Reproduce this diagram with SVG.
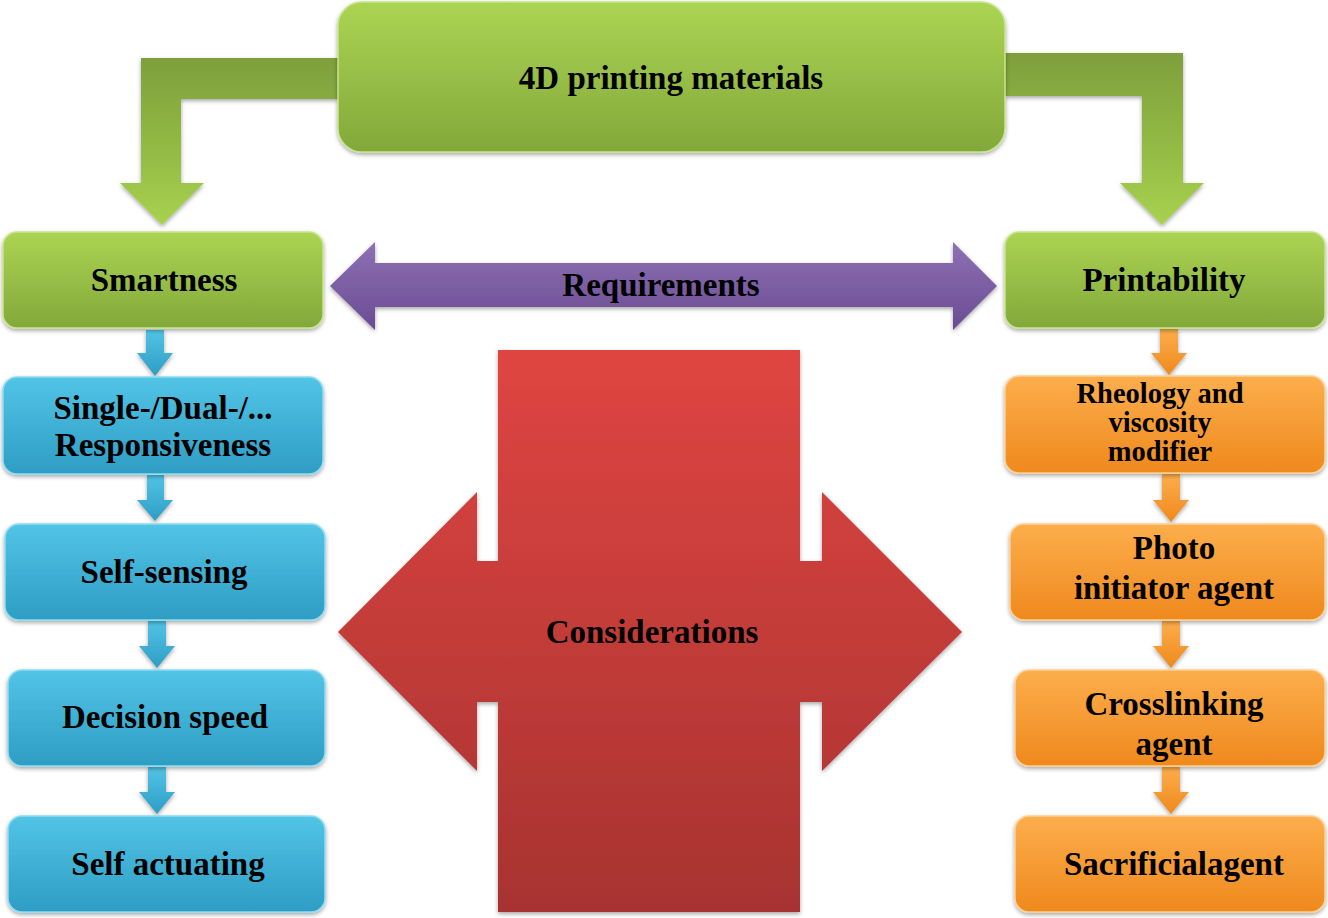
<svg xmlns="http://www.w3.org/2000/svg" width="1328" height="918" viewBox="0 0 1328 918">
<defs>
<linearGradient id="gGreen" x1="0" y1="0" x2="0" y2="1"><stop offset="0" stop-color="#acd453"/><stop offset="1" stop-color="#82a83a"/></linearGradient>
<linearGradient id="gGreenArr" x1="0" y1="0" x2="0" y2="1"><stop offset="0" stop-color="#7e9f3d"/><stop offset="0.6" stop-color="#95bd45"/><stop offset="1" stop-color="#a9d150"/></linearGradient>
<linearGradient id="gBlue" x1="0" y1="0" x2="0" y2="1"><stop offset="0" stop-color="#52c4e6"/><stop offset="1" stop-color="#2e9dc4"/></linearGradient>
<linearGradient id="gOrange" x1="0" y1="0" x2="0" y2="1"><stop offset="0" stop-color="#fcae4c"/><stop offset="1" stop-color="#ef891d"/></linearGradient>
<linearGradient id="gPurple" x1="0" y1="0" x2="0" y2="1"><stop offset="0" stop-color="#8e70b4"/><stop offset="1" stop-color="#6a4c93"/></linearGradient>
<linearGradient id="gRed" x1="0" y1="0" x2="0" y2="1"><stop offset="0" stop-color="#df4541"/><stop offset="1" stop-color="#a73331"/></linearGradient>
<filter id="sh" x="-10%" y="-10%" width="120%" height="130%"><feDropShadow dx="0" dy="2" stdDeviation="2" flood-color="#000" flood-opacity="0.35"/></filter>
</defs>
<style>
text{font-family:"Liberation Serif","Times New Roman",serif;font-weight:bold;fill:#000;text-anchor:middle}
.t30{font-size:33px}
.t24{font-size:28.5px}
.green{fill:url(#gGreen);stroke:#c6e58a;stroke-width:1.5;filter:url(#sh)}
.blue{fill:url(#gBlue);stroke:#8ddcf2;stroke-width:1.5;filter:url(#sh)}
.orange{fill:url(#gOrange);stroke:#fdd094;stroke-width:1.5;filter:url(#sh)}
.barr{fill:url(#gBlue);filter:url(#sh)}
.oarr{fill:url(#gOrange);filter:url(#sh)}
</style>
<g id="connectors">
<path d="M338,58 L141,58 L141,183 L120,183 L162,225 L204,183 L181,183 L181,99 L338,99 Z" fill="url(#gGreenArr)" filter="url(#sh)"/>
<path d="M1005,53 L1183,53 L1183,183 L1204,183 L1162,225 L1120,183 L1142,183 L1142,96 L1005,96 Z" fill="url(#gGreenArr)" filter="url(#sh)"/>
<path id="requirements" d="M330,286 L375,242 L375,263 L953,263 L953,242 L997,286 L953,330 L953,307 L375,307 L375,330 Z" fill="url(#gPurple)" filter="url(#sh)"/>
<path class="barr" d="M146,330 L164,330 L164,353 L173,353 L155,376 L137,353 L146,353 Z"/>
<path class="barr" d="M147,475 L164,475 L164,500 L173,500 L155,521 L137,500 L147,500 Z"/>
<path class="barr" d="M148,621 L166,621 L166,646 L175,646 L157,668 L139,646 L148,646 Z"/>
<path class="barr" d="M148,767 L166,767 L166,792 L175,792 L157,814 L139,792 L148,792 Z"/>
<path class="oarr" d="M1160,329 L1178,329 L1178,353 L1187,353 L1169,375 L1151,353 L1160,353 Z"/>
<path class="oarr" d="M1162,474 L1180,474 L1180,500 L1189,500 L1171,522 L1153,500 L1162,500 Z"/>
<path class="oarr" d="M1162,621 L1180,621 L1180,646 L1189,646 L1171,668 L1153,646 L1162,646 Z"/>
<path class="oarr" d="M1162,767 L1180,767 L1180,792 L1189,792 L1171,814 L1153,792 L1162,792 Z"/>
</g>
<g id="n-top"><rect class="green" x="338" y="2" width="667" height="150" rx="24"/><text class="t30" x="671" y="89">4D printing materials</text></g>
<g id="n-smartness"><rect class="green" x="3" y="232" width="320" height="96" rx="14"/><text class="t30" x="164" y="291">Smartness</text></g>
<g id="n-printability"><rect class="green" x="1005" y="232" width="320" height="96" rx="14"/><text class="t30" x="1164" y="291">Printability</text></g>
<text class="t30" x="661" y="296">Requirements</text>
<g id="n-considerations">
<path d="M498,350 L800,350 L800,561 L822,561 L822,492 L962,632 L822,771 L822,702 L800,702 L800,912 L498,912 L498,702 L477,702 L477,771 L338,632 L477,492 L477,561 L498,561 Z" fill="url(#gRed)" filter="url(#sh)"/>
<text class="t30" x="652" y="643">Considerations</text>
</g>
<g id="n-single"><rect class="blue" x="3" y="377" width="320" height="97" rx="14"/><text class="t30" x="163" y="419">Single-/Dual-/...</text><text class="t30" x="163" y="456">Responsiveness</text></g>
<g id="n-selfsensing"><rect class="blue" x="5" y="524" width="320" height="96" rx="14"/><text class="t30" x="164" y="583">Self-sensing</text></g>
<g id="n-decision"><rect class="blue" x="8" y="670" width="317" height="96" rx="14"/><text class="t30" x="165" y="728">Decision speed</text></g>
<g id="n-selfact"><rect class="blue" x="8" y="816" width="317" height="96" rx="14"/><text class="t30" x="168" y="875">Self actuating</text></g>
<g id="n-rheology"><rect class="orange" x="1005" y="376" width="320" height="97" rx="14"/><text class="t24" x="1160" y="403">Rheology and</text><text class="t24" x="1160" y="432">viscosity</text><text class="t24" x="1160" y="461">modifier</text></g>
<g id="n-photo"><rect class="orange" x="1010" y="524" width="315" height="96" rx="14"/><text class="t30" x="1174" y="559">Photo</text><text class="t30" x="1174" y="599">initiator agent</text></g>
<g id="n-crosslink"><rect class="orange" x="1015" y="670" width="310" height="96" rx="14"/><text class="t30" x="1174" y="715">Crosslinking</text><text class="t30" x="1174" y="755">agent</text></g>
<g id="n-sacrificial"><rect class="orange" x="1015" y="816" width="310" height="96" rx="14"/><text class="t30" x="1174" y="875">Sacrificialagent</text></g>
</svg>
